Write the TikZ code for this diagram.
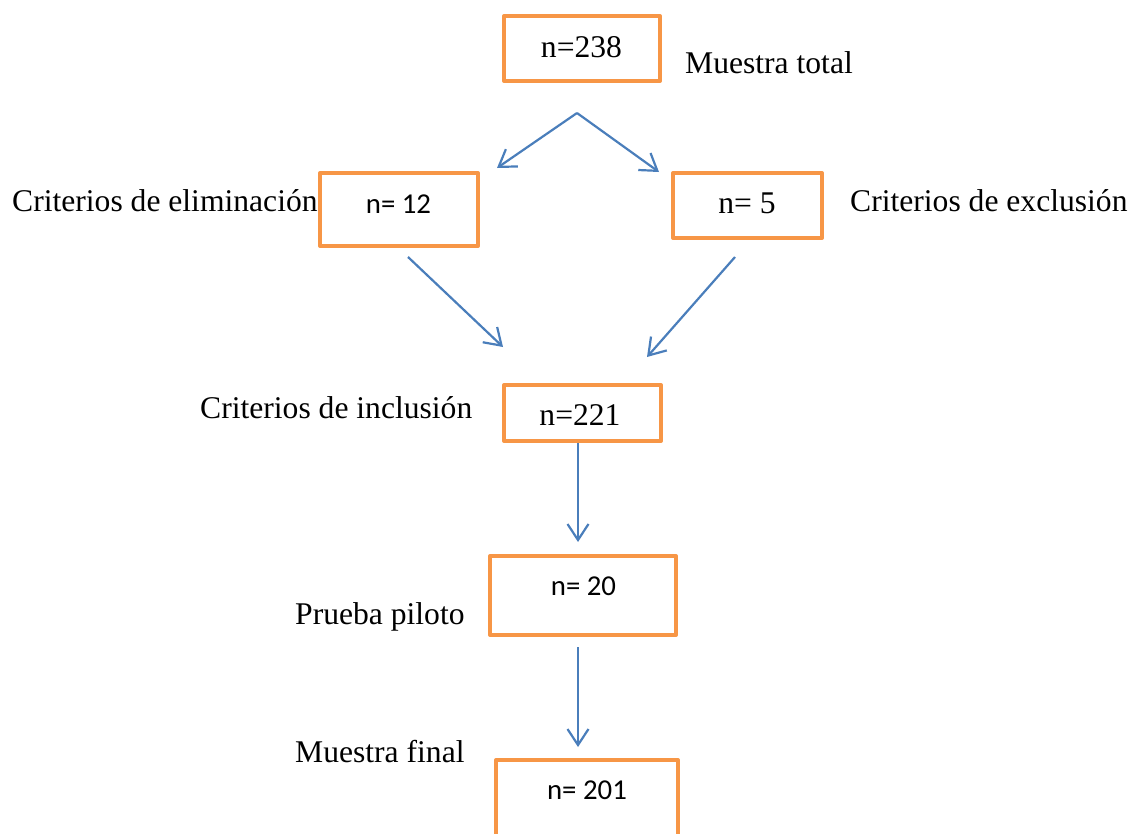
\documentclass[tikz,border=0pt]{standalone}
\usepackage{fontspec}
\setmainfont{Liberation Serif}
\newfontfamily\calib{Carlito}
\usetikzlibrary{arrows.meta}
\definecolor{boxor}{HTML}{F79646}
\definecolor{arrbl}{HTML}{4A7EBB}
\tikzset{
  obox/.style={draw=boxor, line width=4pt, line join=round, inner sep=0pt, fill=none},
  sertxt/.style={inner sep=0pt, font=\fontsize{31.6}{38}\selectfont, anchor=base},
  santxt/.style={inner sep=0pt, font=\calib\fontsize{28.8}{34}\selectfont, anchor=base},
  lbl/.style={inner sep=0pt, font=\fontsize{31.6}{38}\selectfont, anchor=base west},
  arr/.style={draw=arrbl, line width=2.2pt, -{Straight Barb[length=16pt,width=21pt,line width=2.2pt]}},
  seg/.style={draw=arrbl, line width=2.2pt}
}
\begin{document}
\begin{tikzpicture}[x=1pt,y=-1pt]
\useasboundingbox (0,0) rectangle (1145,833);
\clip (0,0) rectangle (1145,833);
% boxes
\node[obox, minimum width=156pt, minimum height=65pt] (b238) at (582,48.5) {};
\node[obox, minimum width=158pt, minimum height=73pt] (b12) at (399,209.5) {};
\node[obox, minimum width=149pt, minimum height=65pt] (b5) at (747.5,205.5) {};
\node[obox, minimum width=157pt, minimum height=56pt] (b221) at (582.5,413) {};
\node[obox, minimum width=186pt, minimum height=79pt] (b20) at (583,595.5) {};
\node[obox, minimum width=182pt, minimum height=76pt] (b201) at (587,798) {};
% box texts
\node[sertxt] (t238) at (581.5,57.7) {n=238};
\node[santxt] (t12) at (398.5,213) {n= 12};
\node[sertxt] (t5) at (747,213) {n= 5};
\node[sertxt] (t221) at (580,425.7) {n=221};
\node[santxt] (t20) at (583.5,595) {n= 20};
\node[santxt] (t201) at (587,799) {n= 201};
% labels
\node[lbl] (lTotal) at (685,73) {Muestra total};
\node[lbl] (lElim) at (12,211) {Criterios de eliminación};
\node[lbl] (lExcl) at (850,211) {Criterios de exclusión};
\node[lbl] (lIncl) at (200,418) {Criterios de inclusión};
\node[lbl] (lPil) at (295,624) {Prueba piloto};
\node[lbl] (lFin) at (295,762.7) {Muestra final};
% connector end points
\coordinate (apex) at (577,113);
\coordinate (e12) at (497,168);
\coordinate (e5) at (659,172);
\coordinate (s12) at (408,257);
\coordinate (s5) at (735,257);
\coordinate (i1) at (503,347);
\coordinate (i2) at (647,357);
\coordinate (s221) at (578,443);
\coordinate (e20) at (578,542);
\coordinate (s20) at (578,647);
\coordinate (e201) at (578,747);
% connectors
\draw[arr] (apex) -- (e12);
\draw[arr] (apex) -- (e5);
\draw[arr] (s12) -- (i1);
\draw[arr] (s5) -- (i2);
\draw[arr] (s221) -- (e20);
\draw[arr] (s20) -- (e201);
\end{tikzpicture}
\end{document}
